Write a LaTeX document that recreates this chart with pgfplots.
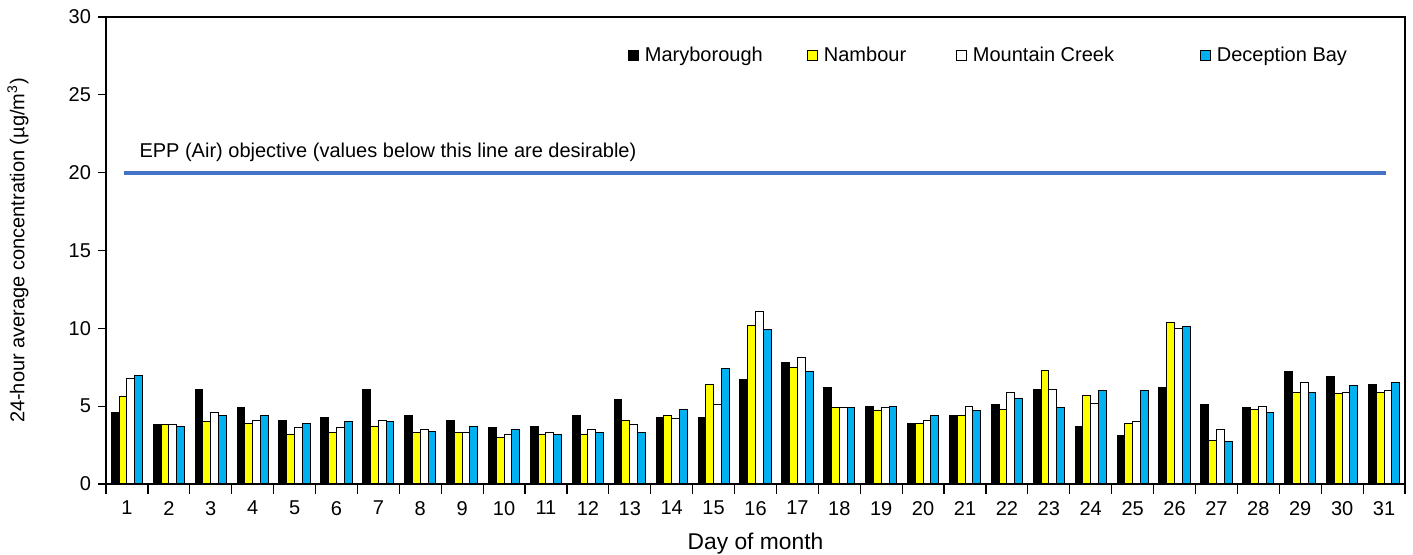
\documentclass[border=0pt]{standalone}
\usepackage{fontspec}
\setmainfont{Liberation Sans}
\usepackage{pgfplots}
\pgfplotsset{compat=1.18}
\usepackage{pgfplotstable}
\usetikzlibrary{calc}
\definecolor{ybar}{HTML}{FFFF00}
\definecolor{bbar}{HTML}{00B0F0}
\definecolor{eppline}{HTML}{4472C4}

\pgfplotstableread{
day mary namb mount decep
1 4.6 5.6 6.8 7.0
2 3.8 3.8 3.8 3.7
3 6.1 4.0 4.6 4.4
4 4.9 3.9 4.1 4.4
5 4.1 3.2 3.6 3.9
6 4.3 3.3 3.6 4.0
7 6.1 3.7 4.1 4.0
8 4.4 3.3 3.5 3.4
9 4.1 3.3 3.3 3.7
10 3.6 3.0 3.2 3.5
11 3.7 3.2 3.3 3.2
12 4.4 3.2 3.5 3.3
13 5.4 4.1 3.8 3.3
14 4.3 4.4 4.2 4.8
15 4.3 6.4 5.1 7.4
16 6.7 10.2 11.1 9.9
17 7.8 7.5 8.1 7.2
18 6.2 4.9 4.9 4.9
19 5.0 4.7 4.9 5.0
20 3.9 3.9 4.1 4.4
21 4.4 4.4 5.0 4.7
22 5.1 4.8 5.9 5.5
23 6.1 7.3 6.1 4.9
24 3.7 5.7 5.2 6.0
25 3.1 3.9 4.0 6.0
26 6.2 10.4 10.0 10.1
27 5.1 2.8 3.5 2.7
28 4.9 4.8 5.0 4.6
29 7.2 5.9 6.5 5.9
30 6.9 5.8 5.9 6.3
31 6.4 5.9 6.0 6.5
}\datatable

\pgfplotstableread{
x y
0.93 20
31.05 20
}\epptable

\begin{document}
\begin{tikzpicture}
\begin{axis}[
  scale only axis,
  width=649.5pt, height=233.5pt,
  xmin=0.5, xmax=31.5,
  ymin=0, ymax=30,
  ytick={0,5,...,30},
  xtick={1,...,31},
  minor xtick={0.5,1.5,...,31.5},
  major x tick style={draw=none},
  minor x tick style={black, line width=0.6pt},
  minor tick length=5pt,
  y tick style={black, line width=0.6pt},
  major tick length=4pt,
  tick align=outside,
  xtick pos=bottom, ytick pos=left,
  axis line style={black, line width=0.6pt},
  /pgf/number format/assume math mode=true,
  tick label style={font=\fontsize{10}{12}\selectfont},
  xticklabel style={yshift=-1pt},
  ylabel={24-hour average concentration (µg/m\textsuperscript{3})},
  ylabel style={font=\fontsize{10}{12}\selectfont, at={(axis description cs:-0.0677,0.5)}, anchor=center},
  xlabel={Day of month},
  xlabel style={font=\fontsize{11.4}{13}\selectfont, at={(axis description cs:0.5,-0.127)}, anchor=center},
  ybar=0pt,
  bar width=3.9pt,
  legend columns=4,
  legend cell align=left,
  legend style={draw=none, fill=none, inner sep=0pt, outer sep=0pt,
    at={(rel axis cs:0.4018,0.918)}, anchor=west,
    font=\fontsize{10}{12}\selectfont,
    /tikz/every odd column/.append style={column sep=1pt},
    /tikz/every even column/.append style={column sep=0pt}},
  legend image code/.code={\draw[#1, line width=0.5pt] (0pt,-2.5pt) rectangle (5pt,2.5pt);},
]
\addplot[draw=black, line width=0.5pt, fill=black] table[x=day, y=mary] {\datatable};
\addlegendentry{\makebox[79pt][l]{Maryborough}}
\addplot[draw=black, line width=0.5pt, fill=ybar] table[x=day, y=namb] {\datatable};
\addlegendentry{\makebox[64pt][l]{Nambour}}
\addplot[draw=black, line width=0.5pt, fill=white] table[x=day, y=mount] {\datatable};
\addlegendentry{\makebox[111.5pt][l]{Mountain Creek}}
\addplot[draw=black, line width=0.5pt, fill=bbar] table[x=day, y=decep] {\datatable};
\addlegendentry{Deception Bay}
\addplot[sharp plot, draw=eppline, line width=2pt, forget plot, mark=none] table[x=x, y=y] {\epptable};
\node[anchor=west, font=\fontsize{10}{12}\selectfont, inner sep=0pt] at (axis cs:1.29,21.3) {EPP (Air) objective (values below this line are desirable)};
\end{axis}
\pgfresetboundingbox
\path[use as bounding box] ($(current axis.south west)+(-53pt,-35.5pt)$) rectangle ($(current axis.north east)+(4pt,8.5pt)$);
\end{tikzpicture}
\end{document}
